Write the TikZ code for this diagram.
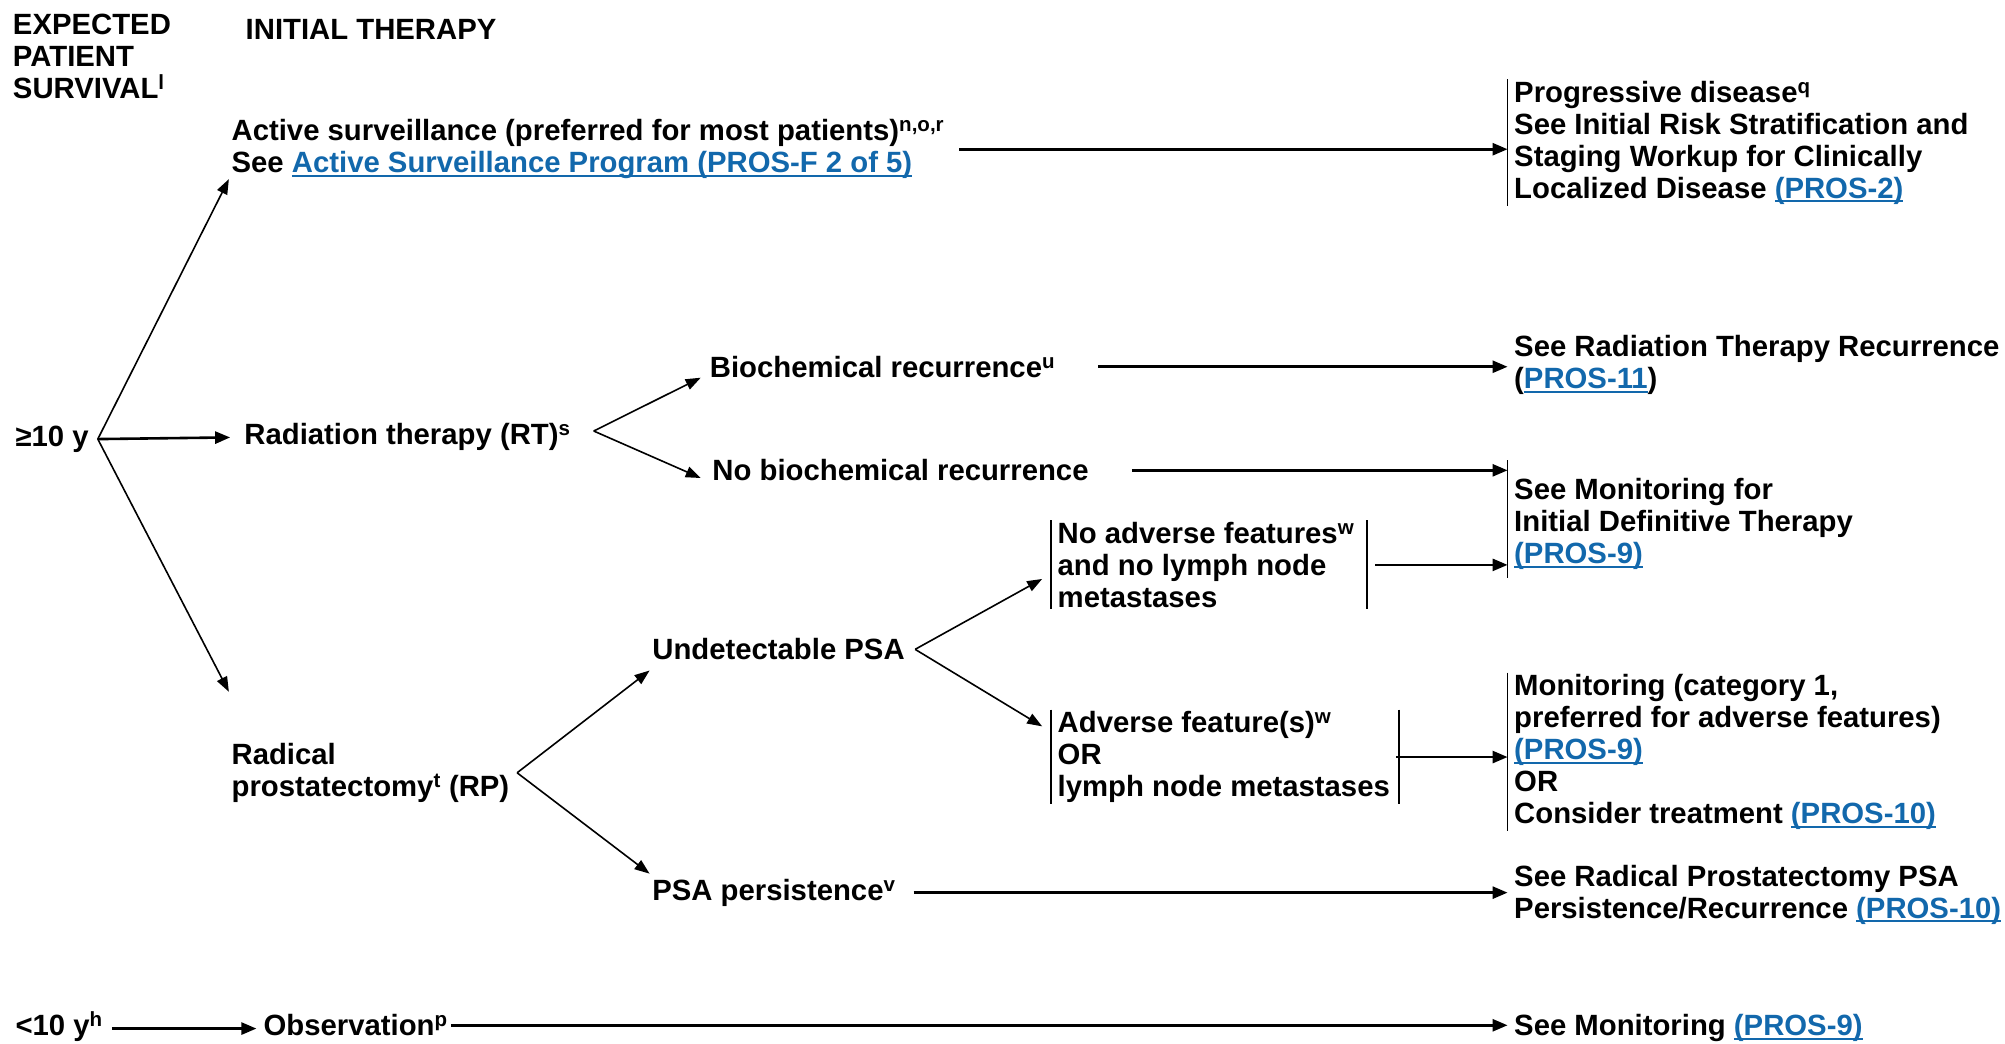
\documentclass[tikz,border=0pt]{standalone}
\usepackage{fontspec}
\setmainfont{Liberation Sans}
\usepackage{xcolor}
\usetikzlibrary{arrows.meta,calc}
\definecolor{linkblue}{HTML}{1268AC}
\newcommand{\lnk}[1]{{\color{linkblue}\setbox0\hbox{#1}\rlap{\rule[-4pt]{\wd0}{1.8pt}}\box0}}
\newcommand{\sups}[1]{\textsuperscript{\smash{#1}}}
\tikzset{
  txt/.style={font=\fontsize{29.3}{32}\selectfont\bfseries, inner sep=0pt, align=left},
  tl/.style={txt, anchor=north west},
  bl/.style={txt, anchor=base west},
  barred/.style={inner xsep=6.4pt, inner ysep=1.5pt},
  arr/.style={-{Triangle[length=15pt,width=12pt]}, line width=2.6pt},
  darr/.style={-{Triangle[length=15pt,width=11pt]}, line width=1.6pt},
  bar/.style={line width=1.6pt}
}

\begin{document}
\begin{tikzpicture}[x=1.2787pt, y=-1.2787pt]
    \useasboundingbox (0,0) rectangle (1568,816);
    % Headers
    \node[tl] (hdr) at (10,10.6) {EXPECTED\\PATIENT\\SURVIVAL\sups{l}};
    \node[tl] (init) at (192,14.6) {INITIAL THERAPY};
    % Left column
    \node[bl] (ge) at (12,349) {≥10 y};
    \node[bl] (lt) at (12,810) {<10 y\sups{h}};
    % Initial therapy
    \node[tl] (as) at (181,93.3) {Active surveillance (preferred for most patients)\sups{n,o,r}\\See \lnk{Active Surveillance Program (PROS-F 2 of 5)}};
    \node[bl] (rt) at (191,348) {Radiation therapy (RT)\sups{s}};
    \node[tl] (rad) at (181,581) {Radical\\prostatectomy\sups{t} (RP)};
    \node[bl] (obs) at (206,810) {Observation\sups{p}};
    % Outcomes
    \node[bl] (br) at (555,295) {Biochemical recurrence\sups{u}};
    \node[bl] (nb) at (557,376) {No biochemical recurrence};
    \node[bl] (up) at (510,516) {Undetectable PSA};
    \node[bl] (pp) at (510,704) {PSA persistence\sups{v}};
    \node[tl, barred] (na) at (822,407) {No adverse features\sups{w}\\and no lymph node\\metastases};
    \node[tl, barred] (af) at (822,555) {Adverse feature(s)\sups{w}\\OR\\lymph node metastases};
    % Right column
    \node[tl, barred] (pd) at (1179,62) {Progressive disease\sups{q}\\See Initial Risk Stratification and\\Staging Workup for Clinically\\Localized Disease \lnk{(PROS-2)}};
    \node[tl, barred] (rr) at (1179,261) {See Radiation Therapy Recurrence\\(\lnk{PROS-11})};
    \node[tl, barred] (mi) at (1179,373) {See Monitoring for\\Initial Definitive Therapy\\\lnk{(PROS-9)}};
    \node[tl, barred] (mt) at (1179,526) {Monitoring (category 1,\\preferred for adverse features)\\\lnk{(PROS-9)}\\OR\\Consider treatment \lnk{(PROS-10)}};
    \node[tl, barred] (rp) at (1179,675) {See Radical Prostatectomy PSA\\Persistence/Recurrence \lnk{(PROS-10)}};
    \node[bl, barred] (sm) at (1179,810) {See Monitoring \lnk{(PROS-9)}};
    % Bars
    \draw[bar] (pd.north west) -- (pd.south west);
    \draw[bar] ($(mi.north west)+(0,-13)$) -- ($(mi.south west)+(0,5)$);
    \draw[bar] (mt.north west) -- (mt.south west);
    \draw[bar] (na.north west) -- (na.south west);
    \draw[bar] ($(na.north east)+(5,0)$) -- ($(na.south east)+(5,0)$);
    \draw[bar] (af.north west) -- (af.south west);
    \draw[bar] ($(af.north east)+(2,0)$) -- ($(af.south east)+(2,0)$);
    % Branch points
    \coordinate (b1) at ($(ge.east)+(7,0)$);
    \coordinate (b2) at ($(rt.east)+(18,-5)$);
    \coordinate (b3) at ($(up.east)+(8,0)$);
    \coordinate (b4) at ($(rad.east)+(6,0)$);
    % Branches
    \draw[darr] (b1) -- ($(as.south west)+(-2,0)$);
    \draw[arr] (b1) -- ($(rt.west)+(-11,0)$);
    \draw[darr] (b1) -- ($(rad.north west)+(-2,-40)$);
    \draw[darr] (b2) -- ($(br.south west)+(-7,0)$);
    \draw[darr] (b2) -- ($(nb.west)+(-9,6)$);
    \draw[darr] (b3) -- ($(na.west)+(-7,11)$);
    \draw[darr] (b3) -- ($(af.west)+(-7,-24)$);
    \draw[darr] (b4) -- ($(up.south west)+(-2,8)$);
    \draw[darr] (b4) -- ($(pp.north west)+(-2,-4)$);
    % Horizontal arrows
    \draw[arr, shorten <=15pt] (as.east) -- (as.east -| pd.west);
    \draw[arr, shorten <=43pt] (br.east) -- (br.east -| rr.west);
    \draw[arr, shorten <=43pt] (nb.east) -- (nb.east -| mi.west);
    \draw[arr, shorten <=8pt] ($(na.east)+(5,0)$) -- (na.east -| mi.west);
    \draw[arr] (af.east) -- (af.east -| mt.west);
    \draw[arr, shorten <=18pt] (pp.east) -- (pp.east -| rp.west);
    \draw[arr, shorten <=9pt, shorten >=7pt] (lt.east) -- (lt.east -| obs.west);
    \draw[arr, shorten <=3pt] (obs.east) -- (obs.east -| sm.west);
\end{tikzpicture}
\end{document}
